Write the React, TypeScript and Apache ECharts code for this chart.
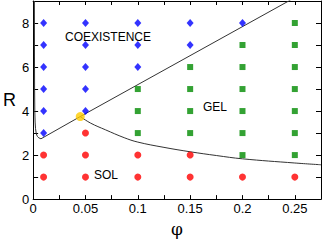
import React, { useEffect, useRef } from "react";
import * as echarts from "echarts";

// Phase diagram data (phi, R)
const coexPoints: [number, number][] = [
  [0.01, 3], [0.01, 4], [0.01, 5], [0.01, 6], [0.01, 7], [0.01, 8],
  [0.05, 4], [0.05, 5], [0.05, 6], [0.05, 7], [0.05, 8],
  [0.1, 6], [0.1, 7], [0.1, 8],
  [0.15, 7], [0.15, 8],
  [0.2, 8],
];
const gelPoints: [number, number][] = [
  [0.1, 3], [0.1, 4], [0.1, 5],
  [0.15, 3], [0.15, 4], [0.15, 5], [0.15, 6],
  [0.2, 2], [0.2, 3], [0.2, 4], [0.2, 5], [0.2, 6], [0.2, 7],
  [0.25, 2], [0.25, 3], [0.25, 4], [0.25, 5], [0.25, 6], [0.25, 7], [0.25, 8],
];
const solPoints: [number, number][] = [
  [0.01, 1], [0.01, 2],
  [0.05, 1], [0.05, 2], [0.05, 3],
  [0.1, 1], [0.1, 2],
  [0.15, 1], [0.15, 2],
  [0.2, 1],
  [0.25, 1],
];
const triplePoint: [number, number][] = [[0.045, 3.75]];

// Boundary curves
const coexLeftCurve: [number, number][] = [
  [0.0012, 9.0], [0.0013, 6.5], [0.0014, 5.0], [0.0016, 4.0], [0.0019, 3.5],
  [0.0023, 3.2], [0.003, 2.97], [0.004, 2.85], [0.0055, 2.78], [0.0075, 2.74],
];
const coexLine: [number, number][] = [
  [0.0075, 2.74], [0.045, 3.75], [0.246, 9.05],
];
const solGelCurve: [number, number][] = [
  [0.045, 3.75], [0.055, 3.45], [0.069, 3.15], [0.087, 2.79], [0.1, 2.59],
  [0.125, 2.35], [0.15, 2.15], [0.175, 1.98], [0.2, 1.83],
  [0.25, 1.64], [0.275, 1.56],
];

const xTickStep = 0.025;
const yTickStep = 1;

const FONT = "'Liberation Sans', Arial, sans-serif";

export default function App() {
  const ref = useRef<HTMLDivElement>(null);
  useEffect(() => {
    document.body.style.margin = "0";
    if (!ref.current) return;
    const chart = echarts.init(ref.current, undefined, { renderer: "svg" });
    const axisLine = { show: true, onZero: false, lineStyle: { color: "#000", width: 1 } };
    const xLabelFmt = (v: number) => {
      const k = Math.round(v / xTickStep);
      if (k % 2 !== 0) return "";
      return String(+(k * xTickStep).toFixed(3));
    };
    const yLabelFmt = (v: number) => {
      const k = Math.round(v / yTickStep);
      if (k % 2 !== 0) return "";
      return String(k);
    };
    const lineStyle = { color: "#333", width: 1 };
    chart.setOption({
      animation: false,
      backgroundColor: "#fff",
      textStyle: { fontFamily: FONT },
      grid: { left: 26, right: 3, top: 1, bottom: 33, containLabel: false },
      xAxis: [
        {
          type: "value", min: 0, max: 0.275, interval: xTickStep, position: "bottom",
          axisLine, splitLine: { show: false },
          axisTick: { show: true, inside: true, length: 4, lineStyle: { color: "#000" } },
          axisLabel: { formatter: xLabelFmt, fontSize: 13, color: "#000", margin: 3, fontFamily: FONT },
          name: "φ", nameLocation: "middle", nameGap: 19,
          nameTextStyle: { fontSize: 17, color: "#000", fontFamily: "'DejaVu Serif', serif" },
        },
        {
          type: "value", min: 0, max: 0.275, interval: xTickStep, position: "top",
          axisLine, splitLine: { show: false },
          axisTick: { show: true, inside: true, length: 4, lineStyle: { color: "#000" } },
          axisLabel: { show: false },
        },
      ],
      yAxis: [
        {
          type: "value", min: 0, max: 9, interval: yTickStep, position: "left",
          axisLine, splitLine: { show: false },
          axisTick: { show: true, inside: true, length: 5, lineStyle: { color: "#000" } },
          axisLabel: { formatter: yLabelFmt, fontSize: 13, color: "#000", margin: 4, fontFamily: FONT },
          name: "R", nameLocation: "middle", nameRotate: 0, nameGap: 13,
          nameTextStyle: { fontSize: 18, color: "#000", fontFamily: FONT },
        },
        {
          type: "value", min: 0, max: 9, interval: yTickStep, position: "right",
          axisLine, splitLine: { show: false },
          axisTick: { show: true, inside: true, length: 5, lineStyle: { color: "#000" } },
          axisLabel: { show: false },
        },
      ],
      series: [
        { type: "line", data: coexLeftCurve, smooth: false, showSymbol: false, lineStyle, z: 1 },
        { type: "line", data: coexLine, smooth: false, showSymbol: false, lineStyle, z: 1 },
        { type: "line", data: solGelCurve, smooth: 0.4, showSymbol: false, lineStyle, z: 1 },
        { type: "scatter", data: coexPoints, symbol: "diamond", symbolSize: [7, 8], itemStyle: { color: "#0000ff" }, z: 3 },
        { type: "scatter", data: gelPoints, symbol: "rect", symbolSize: 6, itemStyle: { color: "#008b00" }, z: 3 },
        { type: "scatter", data: solPoints, symbol: "circle", symbolSize: 7, itemStyle: { color: "#ff0000" }, z: 3 },
        { type: "scatter", data: triplePoint, symbol: "circle", symbolSize: 9, itemStyle: { color: "#ffcc00" }, z: 4 },
      ],
      graphic: [
        { type: "text", left: 65, top: 31, style: { text: "COEXISTENCE", fontSize: 12, fill: "#000", fontFamily: FONT } },
        { type: "text", left: 203, top: 101, style: { text: "GEL", fontSize: 12, fill: "#000", fontFamily: FONT } },
        { type: "text", left: 94, top: 169, style: { text: "SOL", fontSize: 12, fill: "#000", fontFamily: FONT } },
      ],
    });
    return () => chart.dispose();
  }, []);
  return (
    <div
      ref={ref}
      style={{ width: 324, height: 242, position: "fixed", left: 0, top: 0, background: "#fff" }}
    />
  );
}
